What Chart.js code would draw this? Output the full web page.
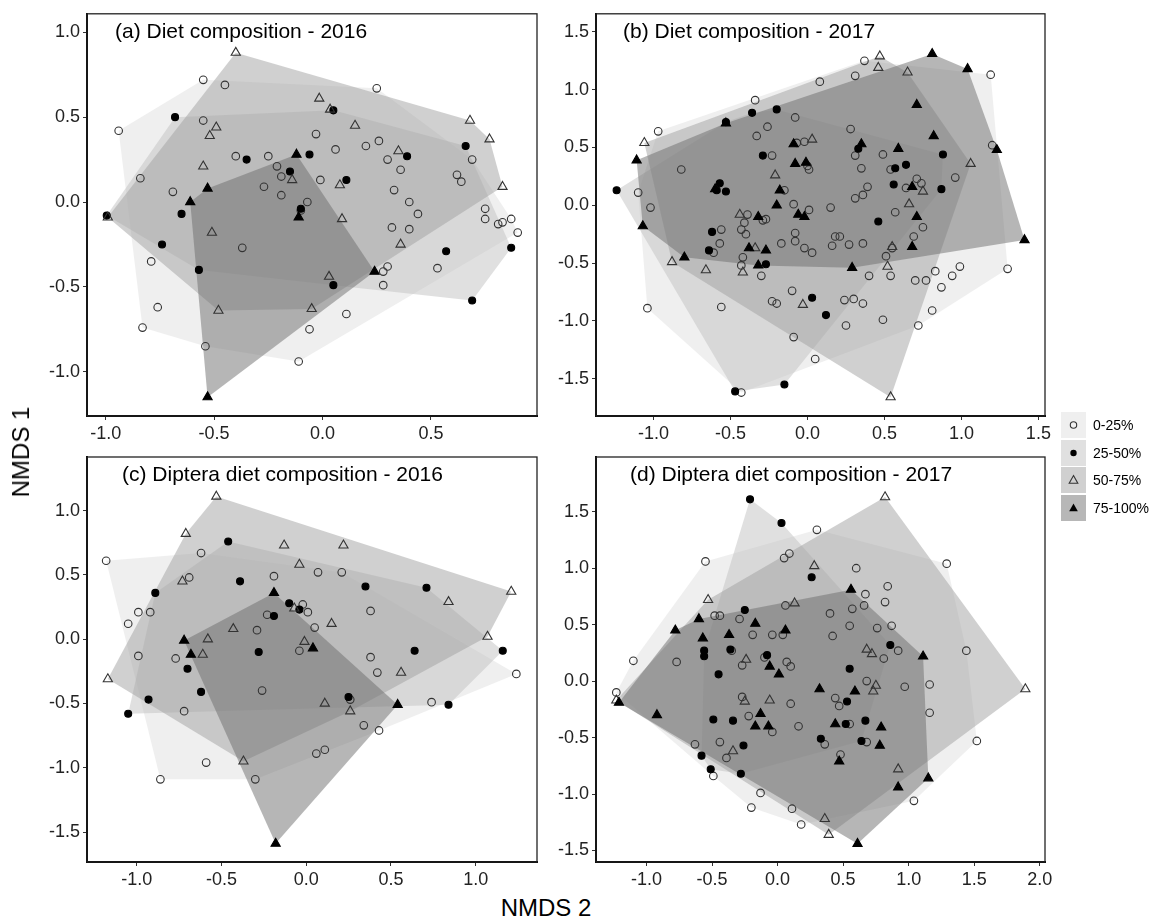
<!DOCTYPE html>
<html>
<head>
<meta charset="utf-8">
<script src="https://cdn.jsdelivr.net/npm/chart.js@4.4.1/dist/chart.umd.min.js"></script>
<style>
  body { margin:0; background:#fff; width:1151px; height:921px; position:relative; overflow:hidden; font-family:"Liberation Sans", Arial, sans-serif; color:#000; }
  canvas { position:absolute; }
  .ytitle { position:absolute; left:21px; top:452px; transform:translate(-50%,-50%) rotate(-90deg); font-size:24px; white-space:nowrap; }
  .xtitle { position:absolute; left:546px; top:908px; transform:translate(-50%,-50%); font-size:24px; white-space:nowrap; }
  .key { position:absolute; left:1061px; width:25px; height:26px; }
  .key svg { display:block; }
  .keylab { position:absolute; left:1093px; font-size:14px; line-height:26px; white-space:nowrap; }
</style>
</head>
<body>
<canvas id="pa" width="540" height="450" style="left:20px;top:0px"></canvas>
<canvas id="pb" width="525" height="450" style="left:540px;top:0px"></canvas>
<canvas id="pc" width="540" height="450" style="left:20px;top:440px"></canvas>
<canvas id="pd" width="525" height="450" style="left:540px;top:440px"></canvas>
<div class="ytitle">NMDS 1</div>
<div class="xtitle">NMDS 2</div>
<div id="legend"></div>
<script>
// groups: 0-25%, 25-50%, 50-75%, 75-100%
const groupLabels = ['0-25%', '25-50%', '50-75%', '75-100%'];

// (a) Diet composition - 2016
const aOpenCircle = [[-0.94,0.42],[-0.55,0.72],[-0.45,0.69],[-0.55,0.48],[-0.40,0.27],[-0.25,0.27],[-0.21,0.21],[-0.19,0.15],[-0.27,0.09],[-0.19,0.04],[-0.03,0.40],[-0.01,0.13],[-0.07,0.00],[-0.10,-0.05],[-0.84,0.14],[-0.69,0.06],[-0.37,-0.27],[-0.79,-0.35],[-0.76,-0.62],[-0.83,-0.74],[-0.54,-0.85],[-0.06,-0.75],[-0.11,-0.94],
  [0.25,0.67],[0.06,0.31],[0.20,0.33],[0.26,0.36],[0.30,0.25],[0.36,0.19],[0.33,0.07],[0.40,0.00],[0.44,-0.07],[0.32,-0.15],[0.40,-0.16],[0.30,-0.38],[0.28,-0.41],[0.28,-0.49],[0.11,-0.66],[0.53,-0.39],[0.69,0.25],[0.62,0.16],[0.64,0.12],[0.75,-0.04],[0.75,-0.10],[0.81,-0.13],[0.83,-0.12],[0.87,-0.10],[0.90,-0.18]];
const aFilledCircle = [[-0.995,-0.08],[-0.68,0.50],[-0.35,0.25],[-0.65,-0.07],[-0.74,-0.25],[-0.57,-0.40],[-0.15,0.18],[-0.06,0.28],[-0.10,-0.04],[0.05,0.54],[0.39,0.27],[0.11,0.13],[0.05,-0.49],[0.57,-0.29],[0.66,0.33],[0.87,-0.27],[0.69,-0.58]];
const aOpenTri = [[-0.40,0.88],[-0.015,0.61],[0.035,0.545],[-0.49,0.44],[-0.52,0.39],[-0.55,0.21],[-0.14,0.13],[-0.99,-0.09],[-0.51,-0.18],[-0.48,-0.64],[-0.05,-0.63],[0.03,-0.44],[0.15,0.45],[0.35,0.30],[0.08,0.10],[0.09,-0.10],[0.36,-0.25],[0.68,0.48],[0.77,0.37],[0.83,0.09]];
const aFilledTri = [[-0.12,0.28],[-0.53,0.08],[-0.61,0.00],[-0.11,-0.09],[-0.53,-1.15],[0.24,-0.41]];

// (b) Diet composition - 2017
const bOpenCircle = [[-0.97,0.64],[-0.34,0.91],[-0.33,0.60],[-0.26,0.68],[-0.08,0.76],[-0.82,0.31],[-1.10,0.11],[-1.02,-0.02],[-0.23,0.43],[-0.07,0.54],[-0.02,0.55],[0.00,0.34],[0.01,0.31],[-0.15,0.13],[-0.09,0.01],[0.01,-0.04],[-0.39,-0.08],[-0.41,-0.15],[-0.43,-0.21],[-0.40,-0.25],[-0.27,-0.12],[-0.29,-0.13],[-0.56,-0.21],[-0.57,-0.33],[-0.61,-0.41],[-0.42,-0.45],[-0.43,-0.52],[-0.30,-0.61],[-0.17,-0.33],[-0.08,-0.24],[-0.08,-0.31],[-0.02,-0.37],[0.03,-0.41],[-1.04,-0.89],[-0.56,-0.88],[-0.23,-0.83],[-0.20,-0.85],[-0.10,-0.74],[-0.09,-1.14],[0.05,-1.33],[-0.43,-1.62],[0.08,1.07],
  [0.37,1.25],[0.31,1.12],[1.19,1.13],[0.28,0.66],[1.20,0.52],[0.31,0.43],[0.35,0.32],[0.49,0.44],[0.54,0.31],[0.96,0.24],[0.71,0.23],[0.74,0.19],[0.64,0.15],[0.39,0.16],[0.36,0.09],[0.31,0.06],[0.15,-0.02],[0.57,-0.06],[0.75,-0.19],[0.69,-0.27],[0.18,-0.27],[0.21,-0.27],[0.16,-0.35],[0.27,-0.34],[0.36,-0.33],[0.55,-0.37],[0.51,-0.44],[0.40,-0.61],[0.54,-0.61],[0.70,-0.65],[0.77,-0.65],[0.83,-0.57],[0.94,-0.61],[0.99,-0.53],[0.87,-0.71],[1.30,-0.55],[0.24,-0.82],[0.30,-0.81],[0.36,-0.85],[0.49,-0.99],[0.25,-1.04],[0.72,-1.04],[0.81,-0.91]];
const bFilledCircle = [[-1.24,0.13],[-0.36,0.80],[-0.20,0.83],[-0.29,0.43],[-0.53,0.72],[-0.57,0.19],[-0.59,0.13],[-0.53,0.12],[-0.62,-0.23],[-0.64,-0.39],[-0.27,-0.51],[-0.47,-1.61],[-0.15,-1.55],[0.03,-0.80],[0.33,0.49],[0.57,0.32],[0.64,0.35],[0.56,0.18],[0.88,0.44],[0.87,0.14],[0.46,-0.14],[0.12,-0.95]];
const bOpenTri = [[-1.06,0.54],[-0.21,0.26],[-0.44,-0.08],[-0.34,-0.37],[-0.88,-0.49],[-0.66,-0.56],[-0.42,-0.58],[-0.03,-0.86],[0.03,0.57],[0.47,1.29],[0.46,1.19],[0.65,1.15],[1.06,0.36],[0.75,0.12],[0.66,0.01],[0.55,-0.36],[0.52,-0.53],[0.54,-1.66]];
const bFilledTri = [[-1.11,0.39],[-1.07,-0.18],[-0.80,-0.45],[-0.53,0.71],[-0.60,0.14],[-0.09,0.53],[-0.08,0.36],[-0.01,0.37],[-0.18,0.13],[-0.20,0.00],[-0.32,-0.10],[-0.06,-0.08],[-0.02,-0.10],[-0.38,-0.37],[-0.27,-0.39],[-0.32,-0.52],[0.81,1.31],[1.04,1.18],[0.71,0.87],[0.82,0.60],[0.35,0.53],[0.59,0.49],[1.23,0.48],[0.68,0.16],[0.71,-0.10],[1.41,-0.30],[0.68,-0.36],[0.29,-0.54]];

// (c) Diptera diet composition - 2016
const cOpenCircle = [[-1.18,0.61],[-1.05,0.12],[-0.99,0.21],[-0.92,0.21],[-0.99,-0.13],[-0.77,-0.15],[-0.72,-0.56],[-0.86,-1.09],[-0.59,-0.96],[-0.62,0.67],[-0.69,0.48],[-0.19,0.49],[-0.23,0.19],[-0.29,0.07],[-0.26,-0.40],[-0.30,-1.09],[-0.02,0.27],[0.01,0.21],[0.05,0.09],[0.07,0.52],[-0.04,-0.09],[0.06,-0.89],[0.11,-0.86],[0.21,0.52],[0.38,0.22],[0.38,-0.14],[0.42,-0.26],[0.74,-0.49],[0.34,-0.67],[0.43,-0.71],[1.24,-0.27],[0.26,-0.47]];
const cFilledCircle = [[-0.89,0.36],[-1.05,-0.58],[-0.93,-0.47],[-0.46,0.76],[-0.39,0.45],[-0.70,-0.23],[-0.62,-0.41],[-0.28,-0.10],[-0.19,0.18],[-0.10,0.28],[-0.04,0.23],[0.35,0.41],[0.71,0.40],[0.64,-0.09],[1.16,-0.09],[0.25,-0.45],[0.84,-0.51]];
const cOpenTri = [[-0.53,1.11],[-0.71,0.82],[-0.13,0.73],[-0.04,0.58],[-0.73,0.45],[-1.17,-0.31],[-0.43,0.08],[-0.58,0.00],[-0.61,-0.12],[-0.07,0.24],[-0.01,-0.02],[-0.37,-0.95],[0.11,-0.50],[0.15,0.12],[0.22,0.73],[0.84,0.29],[1.21,0.37],[1.07,0.02],[0.56,-0.26],[0.26,-0.56]];
const cFilledTri = [[-0.72,-0.01],[-0.68,-0.12],[-0.19,0.36],[0.04,-0.07],[-0.18,-1.59],[0.54,-0.51]];

// (d) Diptera diet composition - 2017
const dOpenCircle = [[-0.55,1.06],[-1.10,0.18],[-1.23,-0.10],[-0.77,0.17],[-0.48,0.58],[-0.44,0.58],[-0.29,0.55],[-0.19,0.41],[-0.04,0.41],[0.04,0.41],[0.06,0.67],[0.05,1.09],[0.09,1.13],[0.30,1.34],[-0.35,0.27],[-0.27,0.14],[-0.10,0.21],[0.07,0.17],[0.10,0.13],[-0.27,-0.14],[-0.22,-0.31],[0.10,-0.20],[0.16,-0.40],[-0.04,-0.45],[-0.63,-0.56],[-0.44,-0.54],[-0.39,-0.68],[-0.49,-0.84],[-0.13,-0.99],[-0.20,-1.12],[0.11,-1.13],[0.18,-1.27],
  [1.29,1.04],[0.60,1.00],[0.84,0.84],[0.67,0.77],[0.82,0.70],[0.66,0.67],[0.57,0.64],[0.40,0.60],[0.55,0.49],[0.76,0.47],[0.87,0.49],[0.42,0.40],[0.92,0.27],[0.81,0.20],[1.44,0.27],[0.68,0.00],[0.97,-0.05],[1.16,-0.03],[1.16,-0.28],[0.44,-0.15],[0.47,-0.22],[0.55,-0.38],[0.36,-0.56],[0.68,-0.54],[0.48,-0.65],[1.52,-0.53],[1.04,-1.06]];
const dFilledCircle = [[-0.21,1.61],[0.03,1.40],[0.26,0.92],[-0.25,0.63],[-0.36,0.28],[-0.56,0.27],[-0.56,0.22],[-0.45,0.06],[-0.08,0.23],[-0.49,-0.34],[-0.34,-0.35],[-0.26,-0.57],[-0.58,-0.66],[-0.51,-0.78],[-0.28,-0.82],[0.33,-0.51],[0.86,0.32],[0.55,0.11],[0.53,-0.18],[0.67,-0.35],[0.52,-0.38],[0.64,-0.53]];
const dOpenTri = [[-0.53,0.72],[0.13,0.69],[0.28,1.02],[-0.24,0.19],[-0.25,-0.18],[-0.06,-0.17],[-0.34,-0.62],[-1.23,-0.17],[0.82,1.63],[1.89,-0.07],[0.68,0.28],[0.72,0.24],[0.75,-0.04],[0.73,-0.09],[0.92,-0.78],[0.36,-1.22],[0.39,-1.36]];
const dFilledTri = [[-1.21,-0.19],[-0.78,0.45],[-0.60,0.55],[-0.57,0.38],[-0.37,0.41],[-0.17,0.51],[0.06,0.45],[-0.06,0.13],[0.01,0.06],[-0.92,-0.30],[-0.13,-0.29],[-0.17,-0.40],[-0.07,-0.40],[0.32,-0.07],[0.56,0.81],[1.11,0.22],[0.59,-0.09],[0.44,-0.38],[0.79,-0.41],[0.78,-0.57],[0.47,-0.71],[1.15,-0.86],[0.92,-0.94],[0.61,-1.44]];

// tick labels
const aTicksX = [-1, -0.5, 0, 0.5];
const aTicksY = [-1, -0.5, 0, 0.5, 1];
const bTicksX = [-1, -0.5, 0, 0.5, 1, 1.5];
const bTicksY = [-1.5, -1, -0.5, 0, 0.5, 1, 1.5];
const cTicksX = [-1, -0.5, 0, 0.5, 1];
const cTicksY = [-1.5, -1, -0.5, 0, 0.5, 1];
const dTicksX = [-1, -0.5, 0, 0.5, 1, 1.5, 2];
const dTicksY = [-1.5, -1, -0.5, 0, 0.5, 1, 1.5];

const hullFill = ['rgba(223,223,223,0.5)', 'rgba(193,193,193,0.5)', 'rgba(161,161,161,0.5)', 'rgba(110,110,110,0.5)'];
const keyFill = ['#efefef', '#e0e0e0', '#d0d0d0', '#b7b7b7'];
const markStyle = ['circle', 'circle', 'triangle', 'triangle'];
const markRadius = [3.8, 3.5, 5.3, 5.3];
const markFill = ['rgba(0,0,0,0)', '#000', 'rgba(0,0,0,0)', '#000'];
const markEdge = ['#333', '#000', '#333', '#000'];
const FONT = '"Liberation Sans", Arial, sans-serif';

// convex hull (monotone chain)
function hull(pts) {
  const p = pts.slice().sort((a, b) => a[0] - b[0] || a[1] - b[1]);
  const cross = (o, a, b) => (a[0] - o[0]) * (b[1] - o[1]) - (a[1] - o[1]) * (b[0] - o[0]);
  const lo = [], up = [];
  for (const q of p) {
    while (lo.length >= 2 && cross(lo[lo.length - 2], lo[lo.length - 1], q) <= 0) lo.pop();
    lo.push(q);
  }
  for (const q of p.slice().reverse()) {
    while (up.length >= 2 && cross(up[up.length - 2], up[up.length - 1], q) <= 0) up.pop();
    up.push(q);
  }
  return lo.slice(0, -1).concat(up.slice(0, -1));
}

const panelDeco = {
  id: 'panelDeco',
  afterDraw(chart, args, opts) {
    const { ctx, chartArea: a } = chart;
    ctx.save();
    ctx.strokeStyle = '#222';
    ctx.lineWidth = 1.3;
    ctx.strokeRect(a.left, a.top, a.right - a.left, a.bottom - a.top);
    ctx.fillStyle = '#000';
    ctx.font = '21px ' + FONT;
    ctx.textBaseline = 'alphabetic';
    ctx.fillText(opts.text, a.left + opts.dx, a.top + opts.dy);
    ctx.restore();
  }
};

function makePanel(id, o) {
  const datasets = [];
  o.groups.forEach((g, i) => {
    datasets.push({
      data: hull(g).map(p => ({ x: p[0], y: p[1] })),
      showLine: true, fill: 'shape', tension: 0,
      backgroundColor: hullFill[i], borderColor: 'rgba(0,0,0,0)', borderWidth: 0,
      pointRadius: 0, order: 10 - i
    });
  });
  o.groups.forEach((g, i) => {
    datasets.push({
      data: g.map(p => ({ x: p[0], y: p[1] })),
      pointStyle: markStyle[i], pointRadius: markRadius[i],
      backgroundColor: markFill[i], borderColor: markEdge[i], borderWidth: 1.1,
      order: 4 - i
    });
  });
  const axis = (ticks, fitKey, fitVal, min, max) => ({
    type: 'linear', min, max,
    afterBuildTicks: s => { s.ticks = ticks.map(v => ({ value: v })); },
    afterFit: s => { s[fitKey] = fitVal; },
    grid: { drawOnChartArea: false, drawTicks: true, tickLength: 4, color: '#333', lineWidth: 1 },
    border: { display: true, color: '#000', width: 2 },
    ticks: { color: '#222', font: { family: FONT, size: 18 }, padding: 3, autoSkip: false, maxRotation: 0,
             callback: v => Number(v).toFixed(1) }
  });
  new Chart(document.getElementById(id), {
    type: 'scatter',
    data: { datasets },
    options: {
      responsive: false, animation: false, events: [],
      layout: { padding: { top: o.pt, right: o.pr, left: 0, bottom: 0 } },
      plugins: { legend: { display: false }, tooltip: { enabled: false }, panelDeco: o.title },
      scales: {
        x: axis(o.tx, 'height', o.xh, o.xr[0], o.xr[1]),
        y: axis(o.ty, 'width', o.yw, o.yr[0], o.yr[1])
      }
    },
    plugins: [panelDeco]
  });
}

makePanel('pa', { groups: [aOpenCircle, aFilledCircle, aOpenTri, aFilledTri], tx: aTicksX, ty: aTicksY,
  xr: [-1.086, 0.989], yr: [-1.261, 1.109], pt: 10, pr: 23, xh: 34, yw: 67,
  title: { text: '(a) Diet composition - 2016', dx: 28, dy: 24 } });
makePanel('pb', { groups: [bOpenCircle, bFilledCircle, bOpenTri, bFilledTri], tx: bTicksX, ty: bTicksY,
  xr: [-1.374, 1.543], yr: [-1.823, 1.657], pt: 10, pr: 20, xh: 34, yw: 56,
  title: { text: '(b) Diet composition - 2017', dx: 27, dy: 24 } });
makePanel('pc', { groups: [cOpenCircle, cFilledCircle, cOpenTri, cFilledTri], tx: cTicksX, ty: cTicksY,
  xr: [-1.293, 1.362], yr: [-1.733, 1.417], pt: 17, pr: 23, xh: 28, yw: 67,
  title: { text: '(c) Diptera diet composition - 2016', dx: 35, dy: 24 } });
makePanel('pd', { groups: [dOpenCircle, dFilledCircle, dOpenTri, dFilledTri], tx: dTicksX, ty: dTicksY,
  xr: [-1.385, 2.04], yr: [-1.602, 1.985], pt: 17, pr: 20, xh: 28, yw: 56,
  title: { text: '(d) Diptera diet composition - 2017', dx: 34, dy: 24 } });

// legend
const keyTops = [412, 439.5, 467, 494.5];
const keySvg = [
  '<circle cx="12.5" cy="13" r="3.2" fill="none" stroke="#333" stroke-width="1.1"/>',
  '<circle cx="12.5" cy="13" r="3.2" fill="#000"/>',
  '<polygon points="12.5,8.6 16.8,16.2 8.2,16.2" fill="none" stroke="#333" stroke-width="1.1"/>',
  '<polygon points="12.5,8.6 16.8,16.2 8.2,16.2" fill="#000"/>'
];
document.getElementById('legend').innerHTML = groupLabels.map((lab, i) => `
  <div class="key" style="top:${keyTops[i]}px;background:${keyFill[i]}"><svg width="25" height="26">${keySvg[i]}</svg></div>
  <div class="keylab" style="top:${keyTops[i]}px">${lab}</div>`).join('');
</script>
</body>
</html>
